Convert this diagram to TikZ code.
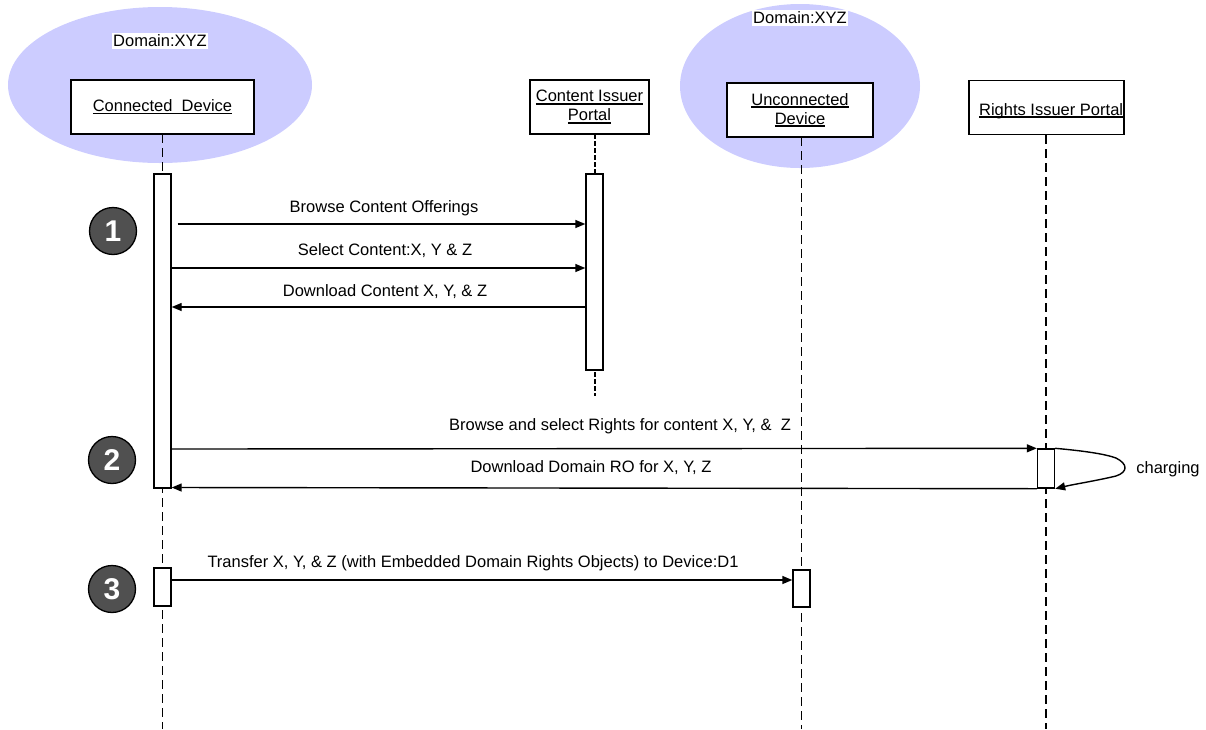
\documentclass[tikz,border=0pt]{standalone}
\usepackage{fontspec}
\setmainfont{Liberation Sans}
\usetikzlibrary{arrows.meta,shapes.geometric,calc}
\definecolor{domainblue}{RGB}{204,204,255}
\definecolor{stepgray}{RGB}{80,80,80}
\newcommand\myul[1]{\setbox0\hbox{#1}\rlap{\rule[-2.6pt]{\wd0}{1.3pt}}\box0}
\begin{document}
\begin{tikzpicture}[x=1pt,y=-1pt,
  every node/.style={font=\fontsize{16.5}{19}\selectfont},
  domainell/.style={ellipse,fill=domainblue,draw=none},
  domlabel/.style={fill=white,inner sep=1.5pt},
  actor/.style={draw,line width=1.6pt,fill=white,minimum height=54pt,align=center,inner sep=2pt},
  actbar/.style={draw,line width=1.4pt,fill=white,minimum width=17pt,inner sep=0pt},
  life/.style={line width=1.5pt,dash pattern=on 9pt off 5pt},
  shortlife/.style={line width=1.5pt,dash pattern=on 4.5pt off 2.5pt},
  msg/.style={line width=1.4pt,-{Triangle[length=10pt,width=8pt]}},
  lbl/.style={inner sep=1pt},
  stepnum/.style={circle,fill=stepgray,draw=black,line width=1.3pt,minimum size=47pt,inner sep=0pt,
    text=white,font=\fontsize{30}{30}\selectfont\bfseries}
]
\useasboundingbox (0,0) rectangle (1206,729);

% domains
\node[domainell,minimum width=304pt,minimum height=156pt] (dom1) at (160,85) {};
\node[domainell,minimum width=240pt,minimum height=164pt] (dom2) at (800,86) {};
\node[domlabel] (dl1) at (160,41) {Domain:XYZ};
\node[domlabel] (dl2) at (800,18) {Domain:XYZ};

% actors
\node[actor,minimum width=183pt] (cd) at (162.5,107) {\myul{Connected\ \ Device}};
\node[actor,minimum width=119pt] (cip) at (589.5,107) {\myul{Content Issuer}\\\myul{Portal}};
\node[actor,minimum width=146pt] (ud) at (800,110) {\myul{Unconnected}\\\myul{Device}};
\node[actor,minimum width=155pt] (rip) at (1046.5,107.5) {};
\node[lbl,anchor=base east] (ript) at ([xshift=-0.5pt,yshift=-7.5pt]rip.east) {\myul{Rights Issuer Portal}};

% lifeline ends
\coordinate (cdtop) at (162.5,134);
\coordinate (cdend) at (162.5,729);
\coordinate (ciptop) at (595,134);
\coordinate (cipend) at (595,396);
\coordinate (udtop) at (801.5,137);
\coordinate (udend) at (801.5,729);
\coordinate (riptop) at (1046,135);
\coordinate (ripend) at (1046,729);

\draw[life] (cdtop) -- (cdend);
\draw[shortlife] (ciptop) -- (cipend);
\draw[life] (udtop) -- (udend);
\draw[life] (riptop) -- (ripend);

% activation bars
\node[actbar,minimum height=314pt] (b1) at (162.5,331) {};
\node[actbar,minimum height=196pt] (b2) at (594.5,272) {};
\node[actbar,minimum height=39pt] (b4) at (1046,468.5) {};
\node[actbar,minimum height=38pt] (b3) at (162.5,587) {};
\node[actbar,minimum height=37pt] (b5) at (801.5,588.5) {};

% message levels
\coordinate (y1) at (0,224);
\coordinate (y2) at (0,268);
\coordinate (y3) at (0,307);
\coordinate (y4) at (0,449);
\coordinate (y5) at (0,487.5);
\coordinate (y6) at (0,580);

\draw[msg] ([xshift=6pt]b1.east |- y1) -- (b2.west |- y1);
\draw[msg] (b1.east |- y2) -- (b2.west |- y2);
\draw[msg] (b2.west |- y3) -- (b1.east |- y3);
\draw[msg] (b1.east |- y4) -- (b4.north west);
\draw[msg] (b4.south west) -- (b1.east |- y5);
\draw[msg] (b3.east |- y6) -- (b5.west |- y6);

\node[lbl] (l1) at (384,208) {Browse Content Offerings};
\node[lbl] (l2) at (385,251) {Select Content:X, Y \& Z};
\node[lbl] (l3) at (385,292) {Download Content X, Y, \& Z};
\node[lbl] (l4) at (620,426) {Browse and select Rights for content X, Y, \&\ \ Z};
\node[lbl] (l5) at (591,468) {Download Domain RO for X, Y, Z};
\node[lbl] (l6) at (473,563) {Transfer X, Y, \& Z (with Embedded Domain Rights Objects) to Device:D1};

% self message charging
\draw[msg] (b4.north east) .. controls (1085,451) and (1105,454) .. (1116,458)
  .. controls (1128,464) and (1128,472) .. (1116,476)
  .. controls (1095,481) and (1075,484) .. (b4.south east);
\node[lbl] (chg) at (1168,469) {charging};

% step numbers
\node[stepnum] (s1) at (113,231) {1};
\node[stepnum] (s2) at (112,460) {2};
\node[stepnum] (s3) at (112,589) {3};
\end{tikzpicture}
\end{document}
